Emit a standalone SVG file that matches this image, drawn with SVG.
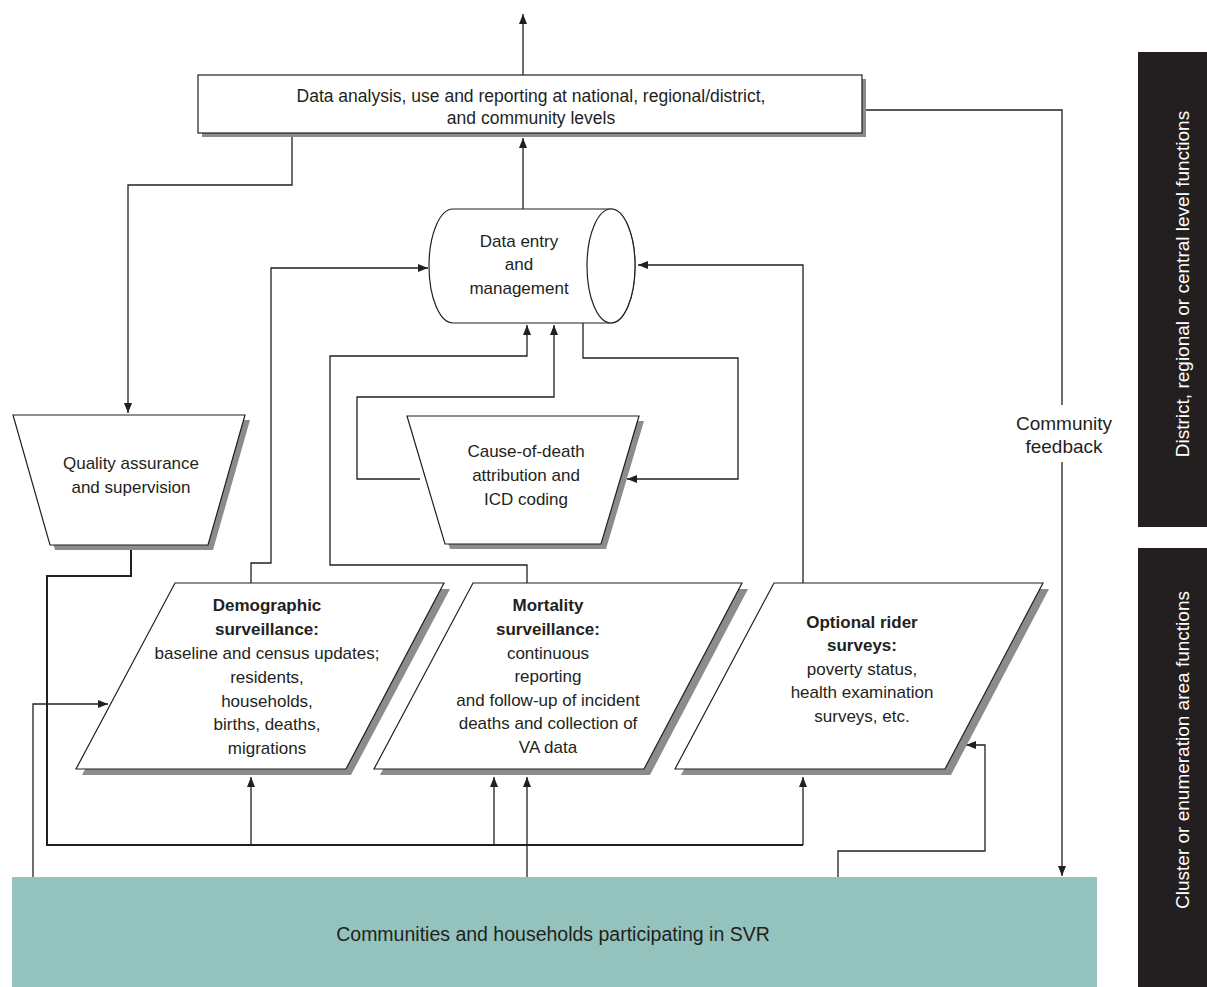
<svg xmlns="http://www.w3.org/2000/svg" width="1207" height="987" viewBox="0 0 1207 987">
<style>
.t{font-family:"Liberation Sans",Arial,sans-serif;font-size:17px;fill:#231f20;text-anchor:middle}
.b{font-weight:bold}
.w{font-family:"Liberation Sans",Arial,sans-serif;font-size:19px;fill:#ffffff;text-anchor:middle}
.shape{fill:#ffffff;stroke:#231f20;stroke-width:1.2}
.shadow{fill:#8c8c8c}
.c{fill:none;stroke:#231f20;stroke-width:1.3}
.ca{fill:none;stroke:#231f20;stroke-width:1.3;marker-end:url(#ah)}
.thick{fill:none;stroke:#231f20;stroke-width:2}
</style>
<defs>
<marker id="ah" markerUnits="userSpaceOnUse" markerWidth="10" markerHeight="8" refX="10" refY="4" orient="auto">
<path d="M0,0 L10,4 L0,8 z" fill="#231f20"/>
</marker>
</defs>
<rect width="1207" height="987" fill="#ffffff"/>

<g id="connectors">
<path class="ca" d="M523,75 L523,14"/>
<path class="ca" d="M523,209 L523,138"/>
<path class="ca" d="M292,133 L292,185 L128,185 L128,413"/>
<path class="c" d="M862,110 L1062,110 L1062,405"/>
<path class="ca" d="M1062,462 L1062,876"/>
<path class="ca" d="M251,583 L251,563 L271,563 L271,268 L428,268"/>
<path class="ca" d="M803,583 L803,265 L638,265"/>
<path class="ca" d="M527,583 L527,565 L330,565 L330,356 L527,356 L527,325"/>
<path class="ca" d="M420,479 L357,479 L357,397 L554,397 L554,325"/>
<path class="ca" d="M583,323 L583,358 L738,358 L738,479 L627,479"/>
<path class="thick" d="M131,545 L131,576 L47,576 L47,845 L803,845"/>
<path class="ca" d="M251,845 L251,777"/>
<path class="ca" d="M494,845 L494,777"/>
<path class="ca" d="M803,845 L803,777"/>
<path class="ca" d="M527,877 L527,777"/>
<path class="ca" d="M33,877 L33,704 L108,704"/>
<path class="ca" d="M838,877 L838,851 L985,851 L985,745 L966,745"/>
</g>

<g id="node-analysis">
<rect class="shadow" x="202" y="79" width="664" height="58"/>
<rect class="shape" x="198" y="75" width="664" height="58"/>
<text class="t" x="531" y="102" style="font-size:17.5px">Data analysis, use and reporting at national, regional/district,</text>
<text class="t" x="531" y="124" style="font-size:17.5px">and community levels</text>
</g>

<g id="node-data-entry">
<path class="shape" d="M453,209 L611,209 A24,57 0 0 1 611,323 L453,323 A24,57 0 0 1 453,209 Z"/>
<ellipse class="shape" cx="611" cy="266" rx="24" ry="57"/>
<text class="t" x="519" y="247">Data entry</text>
<text class="t" x="519" y="270">and</text>
<text class="t" x="519" y="294">management</text>
</g>

<g id="node-quality">
<polygon class="shadow" points="18,420 250,420 213,550 55,550"/>
<polygon class="shape" points="13,415 245,415 208,545 50,545"/>
<text class="t" x="131" y="469">Quality assurance</text>
<text class="t" x="131" y="493">and supervision</text>
</g>

<g id="node-cause">
<polygon class="shadow" points="412,421 644,421 606,549 450,549"/>
<polygon class="shape" points="407,416 639,416 601,544 445,544"/>
<text class="t" x="526" y="457">Cause-of-death</text>
<text class="t" x="526" y="481">attribution and</text>
<text class="t" x="526" y="505">ICD coding</text>
</g>

<g id="node-demographic">
<polygon class="shadow" points="181,589 450,589 351,775 82,775"/>
<polygon class="shape" points="175,583 444,583 346,769 76,769"/>
<text class="t b" x="267" y="611">Demographic</text>
<text class="t b" x="267" y="635">surveillance:</text>
<text class="t" x="267" y="659">baseline and census updates;</text>
<text class="t" x="267" y="683">residents,</text>
<text class="t" x="267" y="707">households,</text>
<text class="t" x="267" y="730">births, deaths,</text>
<text class="t" x="267" y="754">migrations</text>
</g>

<g id="node-mortality">
<polygon class="shadow" points="479,589 748,589 650,775 380,775"/>
<polygon class="shape" points="473,583 742,583 644,769 374,769"/>
<text class="t b" x="548" y="611">Mortality</text>
<text class="t b" x="548" y="635">surveillance:</text>
<text class="t" x="548" y="659">continuous</text>
<text class="t" x="548" y="682">reporting</text>
<text class="t" x="548" y="706">and follow-up of incident</text>
<text class="t" x="548" y="729">deaths and collection of</text>
<text class="t" x="548" y="753">VA data</text>
</g>

<g id="node-optional">
<polygon class="shadow" points="780,589 1049,589 951,775 681,775"/>
<polygon class="shape" points="774,583 1043,583 945,769 675,769"/>
<text class="t b" x="862" y="628">Optional rider</text>
<text class="t b" x="862" y="651">surveys:</text>
<text class="t" x="862" y="675">poverty status,</text>
<text class="t" x="862" y="698">health examination</text>
<text class="t" x="862" y="722">surveys, etc.</text>
</g>

<g id="node-feedback-label">
<text class="t" x="1064" y="430" style="font-size:19px">Community</text>
<text class="t" x="1064" y="453" style="font-size:19px">feedback</text>
</g>

<g id="node-communities">
<rect x="12" y="877" width="1085" height="110" fill="#93c3bc"/>
<text class="t" x="553" y="941" style="font-size:19.5px">Communities and households participating in SVR</text>
</g>

<g id="node-district-bar">
<rect x="1138" y="52" width="69" height="475" fill="#231f20"/>
<text class="w" transform="translate(1189,284) rotate(-90)">District, regional or central level functions</text>
</g>

<g id="node-cluster-bar">
<rect x="1138" y="548" width="69" height="439" fill="#231f20"/>
<text class="w" transform="translate(1189,750) rotate(-90)">Cluster or enumeration area functions</text>
</g>
</svg>
